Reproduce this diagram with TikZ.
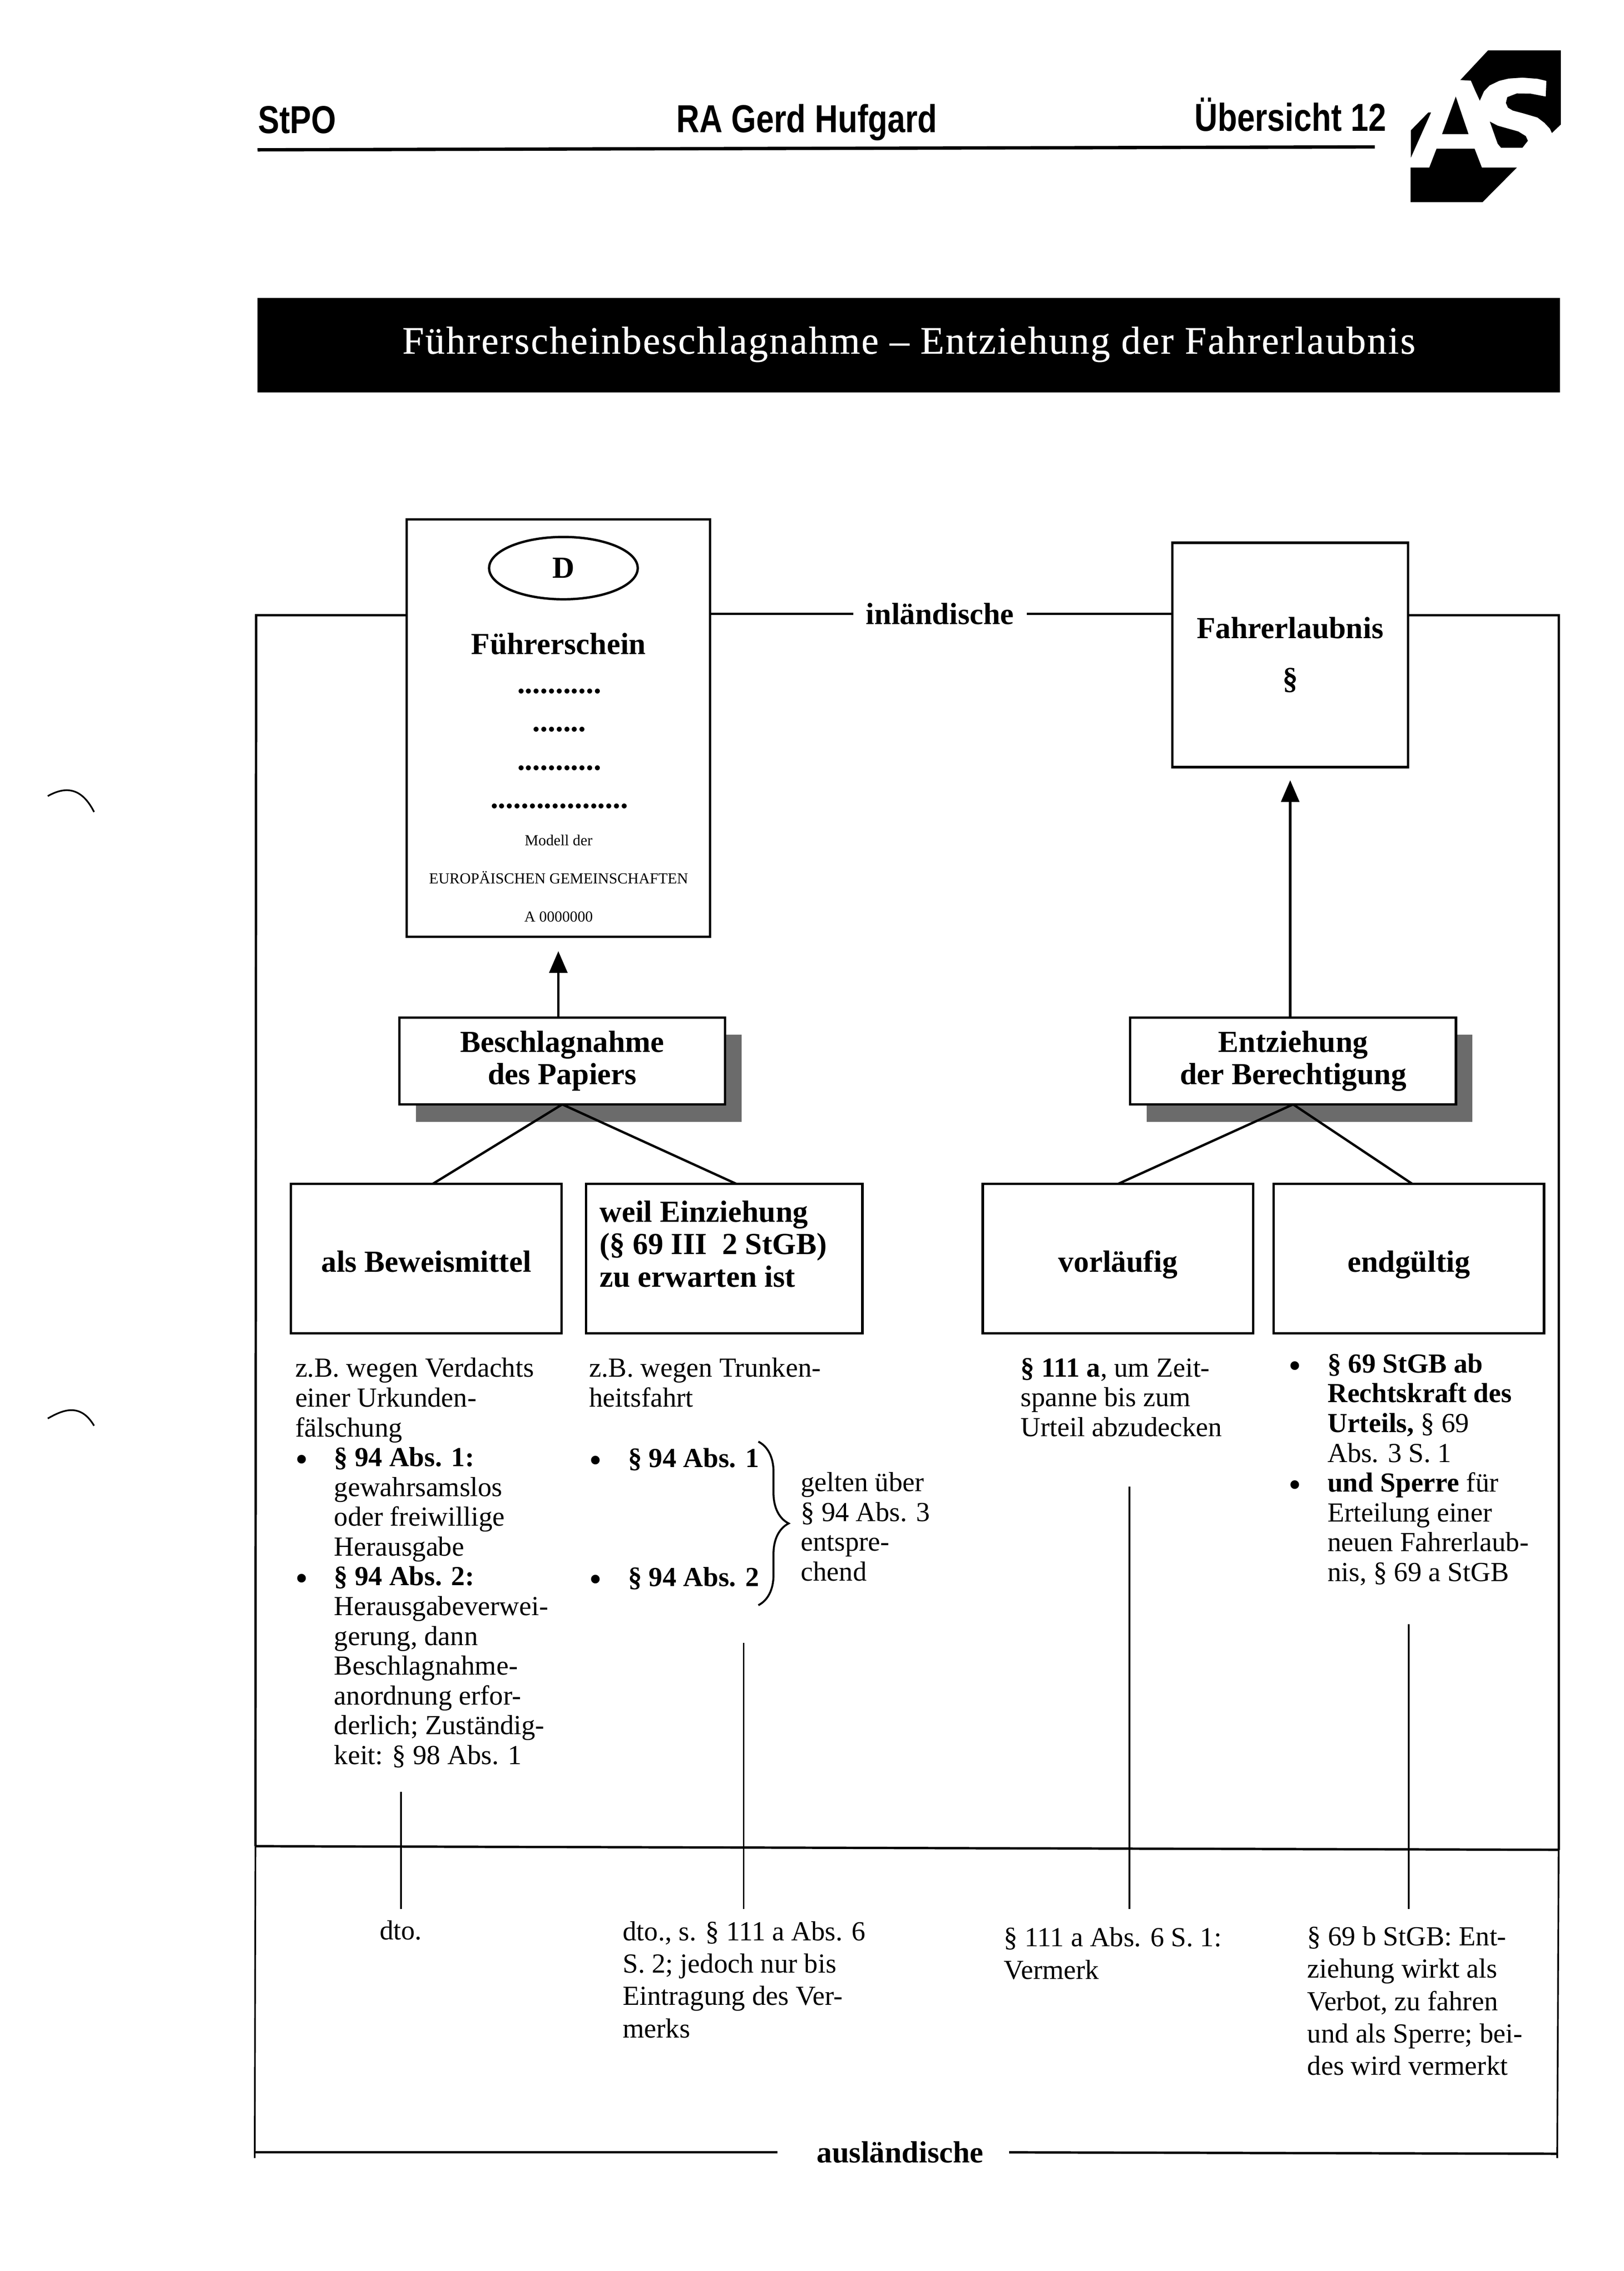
\documentclass[tikz,border=0pt]{standalone}
\usepackage{fontspec}
\setmainfont{Liberation Serif}
\newfontfamily\kopffont[FakeStretch=0.82]{Liberation Sans}
\usetikzlibrary{arrows.meta,positioning,shadows,shapes.geometric,decorations.pathreplacing}

\newcommand{\punkt}{\makebox[14pt][l]{\raisebox{-1.8pt}{\fontsize{13}{13}\selectfont\textbullet}}}
\newcommand{\einzug}{\hspace*{14pt}}

\begin{document}
\begin{tikzpicture}[
		x=0.52pt, y=-0.52pt,
		kopf/.style={anchor=base west, inner sep=0pt, font=\kopffont\bfseries\fontsize{14}{16}\selectfont},
		box/.style={draw, line width=0.85pt, fill=white, inner sep=0pt, outer sep=0pt, align=center, font=\bfseries\fontsize{11}{11.7}\selectfont},
		topbox/.style={box, minimum width=117pt, minimum height=31.2pt, general shadow={fill=black!58, shadow xshift=5.9pt, shadow yshift=-6.2pt}},
		lowbox/.style={box, minimum width=97.2pt, minimum height=53.6pt},
		singlebox/.style={lowbox, text height=9.6pt, text depth=0pt},
		fett/.style={inner sep=0pt, font=\bfseries\fontsize{11}{11.7}\selectfont},
		punkte/.style={fett, anchor=base},
		klein/.style={inner sep=0pt, anchor=base, font=\fontsize{5.5}{6}\selectfont},
		textblock/.style={anchor=north west, inner sep=0pt, align=left, font=\fontsize{9.9}{10.7}\selectfont},
		textweit/.style={textblock, font=\fontsize{9.9}{11.65}\selectfont},
		linie/.style={line width=0.85pt},
		duenn/.style={line width=0.6pt},
		pfeil/.style={line width=0.85pt, -{Triangle[length=7.8pt, width=6.5pt]}},
		logoteil/.style={fill=black, draw=none},
	]
		\useasboundingbox (0,0) rectangle (1122,1569);

		% Kopfzeile
		\node[kopf] (stpo) at (178,92) {StPO};
		\node[kopf] (ra) at (467,91.5) {RA Gerd Hufgard};
		\node[kopf] (uebersicht) at (825,90.5) {Übersicht 12};
		\coordinate (rulea) at (178,103.5);
		\coordinate (ruleb) at (950,101.5);
		\draw[line width=1.2pt] (rulea) -- (ruleb);

		% Logo
		\begin{scope}[shift={(939,22.9)}, x=0.04935pt, y=-0.04181pt]
			\fill[logoteil] (940,148) -- (1470,148) -- (1470,785) -- (1405,858) -- (1390,820) -- (1350,770) -- (1300,725) -- (1200,690) -- (1120,665) -- (1085,640) -- (1070,600) -- (1080,550) -- (1150,518) -- (1250,520) -- (1360,545) -- (1365,410) -- (1300,392) -- (1190,382) -- (1090,390) -- (1020,410) -- (950,450) -- (910,500) -- (880,580) -- (845,490) -- (815,408) -- (738,403) -- cycle;
			\fill[logoteil] (378,835) -- (505,682) -- (525,682) -- (378,1070) -- cycle;
			\fill[logoteil] (705,545) -- (798,868) -- (605,868) -- cycle;
			\fill[logoteil] (376,1155) -- (512,1155) -- (565,993) -- (842,993) -- (895,1155) -- (1150,1155) -- (900,1452) -- (376,1452) -- cycle;
			\fill[logoteil] (953,760) -- (1010,795) -- (1160,845) -- (1215,885) -- (1230,925) -- (1190,985) -- (1035,985) -- (1010,950) -- cycle;
		\end{scope}

		% Titel
		\node (titel) [fill=black, text=white, inner sep=0pt, minimum width=468pt, minimum height=34pt, text height=9.3pt, text depth=3.2pt, font=\fontsize{14}{16}\selectfont\addfontfeature{LetterSpace=3.5,FakeBold=0.4}] at (628,238.5) {Führerscheinbeschlagnahme – Entziehung der Fahrerlaubnis};

		% Fuehrerschein
		\node (schein) [box, minimum width=108.9pt, minimum height=149.9pt] at (385.8,503) {};
		\node (eu) [draw, ellipse, line width=0.85pt, minimum width=53.4pt, minimum height=22.4pt, inner sep=0pt, font=\bfseries\fontsize{11}{12}\selectfont] at (389.3,392.5) {D};
		\node (name) [fett, anchor=base] at (386,452) {Führerschein};
		\node (zeilea) [punkte] at (386.5,479) {...........};
		\node (zeileb) [punkte] at (386.5,505.5) {.......};
		\node (zeilec) [punkte] at (386.5,532) {...........};
		\node (zeiled) [punkte] at (386.5,558.5) {..................};
		\node (modell) [klein] at (386,584) {Modell der};
		\node (europa) [klein] at (386,610.4) {EUROPÄISCHEN GEMEINSCHAFTEN};
		\node (nummer) [klein] at (386,636.7) {A 0000000};

		\node (fahr) [box, minimum width=84.8pt, minimum height=80.6pt] at (891.5,452.5) {Fahrerlaubnis\\[6.5pt]§};

		% Rahmen
		\node (inl) [fett, inner xsep=4.4pt, inner ysep=0pt] at (649.5,424) {inländische};
		\node (ausl) [fett, inner xsep=14pt, inner ysep=0pt] at (622,1487) {ausländische};
		\coordinate (tl) at (177,425);
		\coordinate (tr) at (1077,425);
		\coordinate (ml) at (176.5,1275.5);
		\coordinate (mr) at (1077,1278);
		\coordinate (bl) at (176,1487);
		\coordinate (br) at (1076,1488);
		\coordinate (blend) at (176,1491);
		\coordinate (brend) at (1076,1491);
		\draw[linie] (schein.west |- tl) -- (tl) -- (ml);
		\draw[linie] (schein.east |- inl) -- (inl);
		\draw[linie] (inl) -- (fahr.west |- inl);
		\draw[linie] (fahr.east |- tr) -- (tr) -- (mr);
		\draw[duenn] (ml) -- (blend);
		\draw[duenn] (mr) -- (brend);
		\draw[linie] (ml) -- (mr);
		\draw[linie] (bl) -- (ausl);
		\draw[linie] ([xshift=-5pt]ausl.east) -- (br);

		% Kaesten
		\node (papier) [topbox] at (388.5,733) {Beschlagnahme\\des Papiers};
		\node (entzug) [topbox] at (893.5,733) {Entziehung\\der Berechtigung};
		\node (beweis) [singlebox] at (294.5,869.5) {als Beweismittel};
		\node (weil) [lowbox, minimum width=99.3pt, right=8.84pt of beweis] {};
		\node (weiltext) [fett, align=left, anchor=north west] at (414,828) {\strut weil Einziehung\\(§ 69 III\ \ 2 StGB)\\zu erwarten ist};
		\node (vorl) [singlebox] at (772.5,869.5) {vorläufig};
		\node (endg) [singlebox, right=7.28pt of vorl] {endgültig};

		\draw[pfeil] (schein.south |- papier.north) -- ([yshift=-5.2pt]schein.south);
		\draw[pfeil] (fahr.south |- entzug.north) -- ([yshift=-4.7pt]fahr.south);
		\draw[linie] (papier.south) -- ([xshift=2.3pt]beweis.north);
		\draw[linie] (papier.south) -- ([xshift=4.4pt]weil.north);
		\draw[linie] (entzug.south) -- (vorl.north);
		\draw[linie] (entzug.south) -- ([xshift=1.3pt]endg.north);

		% Texte oben
		\node (texta) [textblock] at (203.6,936.6) {\strut z.B. wegen Verdachts\\einer Urkunden-\\fälschung\\\punkt\textbf{§ 94 Abs. 1:}\\\einzug gewahrsamslos\\\einzug oder freiwillige\\\einzug Herausgabe\\\punkt\textbf{§ 94 Abs. 2:}\\\einzug Herausgabeverwei-\\\einzug gerung, dann\\\einzug Beschlagnahme-\\\einzug anordnung erfor-\\\einzug derlich; Zuständig-\\\einzug keit: § 98 Abs. 1};
		\node (textb) [textblock] at (406.8,936.6) {\strut z.B. wegen Trunken-\\heitsfahrt};
		\node (abseins) [textblock] at (406.8,999) {\strut\punkt\textbf{§ 94 Abs. 1}};
		\node (abszwei) [textblock] at (406.8,1081.2) {\strut\punkt\textbf{§ 94 Abs. 2}};
		\coordinate (bracea) at (524,996);
		\coordinate (braceb) at (524,1109);
		\draw[line width=0.7pt, decorate, decoration={brace, amplitude=10.9pt}] (bracea) -- (braceb);
		\node (gelten) [textblock] at (553,1015.6) {\strut gelten über\\§ 94 Abs. 3\\entspre-\\chend};
		\node (textc) [textblock] at (705,936.4) {\strut\textbf{§ 111 a}, um Zeit-\\spanne bis zum\\Urteil abzudecken};
		\node (textd) [textblock] at (890,933.6) {\strut\punkt\textbf{§ 69 StGB ab}\\\einzug\textbf{Rechtskraft des}\\\einzug\textbf{Urteils,} § 69\\\einzug Abs. 3 S. 1\\\punkt\textbf{und Sperre} für\\\einzug Erteilung einer\\\einzug neuen Fahrerlaub-\\\einzug nis, § 69 a StGB};

		% Texte unten
		\node (dto) [textweit] at (262,1324) {\strut dto.};
		\node (dtob) [textweit] at (430,1324.5) {\strut dto., s. § 111 a Abs. 6\\S. 2; jedoch nur bis\\Eintragung des Ver-\\merks};
		\node (vermerk) [textweit] at (693.4,1328.8) {\strut § 111 a Abs. 6 S. 1:\\Vermerk};
		\node (verbot) [textweit] at (903,1328) {\strut § 69 b StGB: Ent-\\ziehung wirkt als\\Verbot, zu fahren\\und als Sperre; bei-\\des wird vermerkt};

		% Senkrechte
		\coordinate (va) at (277,1238);
		\coordinate (vb) at (277,1319);
		\coordinate (vc) at (513.8,1135);
		\coordinate (vd) at (513.8,1319);
		\coordinate (ve) at (780.5,1027);
		\coordinate (vf) at (780.5,1319);
		\coordinate (vg) at (973.5,1122);
		\coordinate (vh) at (973.5,1319);
		\draw[duenn] (va) -- (vb);
		\draw[duenn] (vc) -- (vd);
		\draw[duenn] (ve) -- (vf);
		\draw[duenn] (vg) -- (vh);

		% Lochmarken
		\draw[duenn] (33,550) .. controls (42,545) and (55,541) .. (65,561);
		\draw[duenn] (33,980) .. controls (42,975) and (55,968) .. (65,985);
	\end{tikzpicture}
\end{document}
